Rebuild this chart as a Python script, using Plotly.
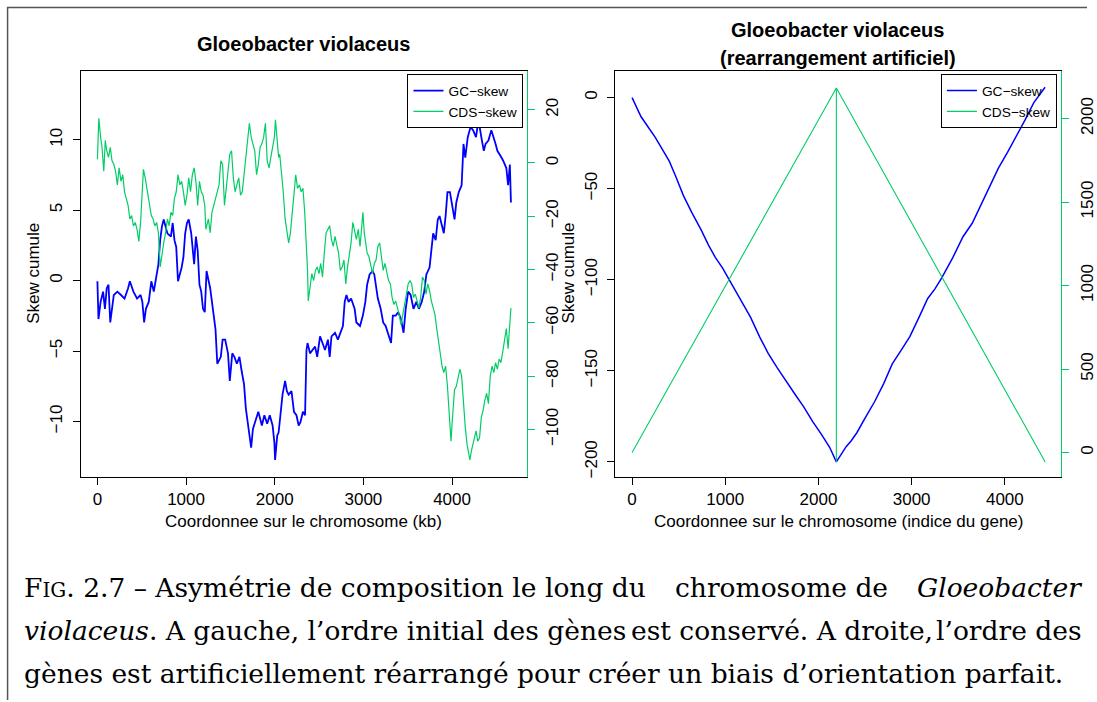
import plotly.graph_objects as go

W, H = 1097, 702


def px(x):
    return x / W


def py(y):
    return 1 - y / H


# ---------------- data: left panel (original gene order) ----------------
gc_kb = [0, 12, 36, 64, 85, 105, 125, 145, 185, 225, 266, 306, 346, 366, 406, 447, 487, 507, 527, 547,
         579, 608, 636, 668, 688, 708, 728, 748, 789, 829, 849, 869, 889, 909, 930, 950, 970, 990, 1010,
         1030, 1058, 1091, 1111, 1131, 1151, 1171, 1191, 1211, 1231, 1272, 1312, 1332, 1352, 1392, 1412,
         1441, 1473, 1493, 1521, 1545, 1573, 1602, 1626, 1654, 1674, 1702, 1714, 1734, 1754, 1795, 1815,
         1855, 1883, 1915, 1944, 1976, 1996, 2004, 2028, 2044, 2068, 2088, 2117, 2137, 2157, 2189, 2217,
         2245, 2270, 2290, 2318, 2342, 2358, 2370, 2398, 2430, 2455, 2479, 2511, 2539, 2567, 2600, 2620,
         2640, 2680, 2712, 2740, 2769, 2789, 2809, 2833, 2861, 2901, 2921, 2962, 2994, 3022, 3042, 3070,
         3103, 3123, 3163, 3195, 3223, 3251, 3284, 3312, 3332, 3364, 3392, 3424, 3453, 3477, 3505, 3533,
         3565, 3597, 3626, 3658, 3686, 3710, 3746, 3767, 3787, 3815, 3839, 3859, 3887, 3907, 3927, 3948,
         3976, 4000, 4028, 4048, 4076, 4108, 4129, 4149, 4177, 4209, 4237, 4270, 4298, 4330, 4358, 4378,
         4410, 4443, 4471, 4491, 4511, 4531, 4559, 4579, 4612, 4632, 4652, 4664]
gc_skew = [-0.05, -2.73, -1.51, -0.78, -2.0, -0.54, -0.29, -2.97, -1.02, -0.78, -1.02, -1.27, -0.54, -0.05,
           -0.78, -1.27, -1.02, -1.51, -2.97, -2.0, -1.51, -0.05, -0.78, 0.44, 1.17, 2.87, 3.85, 4.34, 3.36,
           3.12, 4.09, 2.87, 2.39, -0.05, 0.44, 0.93, 1.66, 3.36, 4.09, 4.34, 3.36, 1.17, 3.12, 2.14, -0.29,
           -0.78, -2.0, -2.24, 0.68, -0.54, -2.48, -3.46, -5.90, -5.41, -4.19, -4.19, -5.16, -7.11, -5.16,
           -5.41, -5.90, -5.41, -6.38, -7.36, -9.06, -10.52, -11.01, -11.86, -10.52, -9.79, -9.31, -10.28,
           -9.55, -10.16, -9.55, -10.28, -11.50, -12.72, -11.01, -10.77, -9.31, -8.09, -7.11, -7.84, -8.09,
           -7.84, -9.31, -9.55, -10.28, -10.04, -9.31, -9.55, -4.92, -4.43, -5.16, -4.92, -4.68, -5.41,
           -3.95, -4.43, -4.92, -4.19, -5.41, -3.95, -3.70, -4.19, -3.70, -3.22, -1.51, -1.02, -1.51, -1.27,
           -2.0, -2.97, -3.22, -2.48, -1.51, -0.29, 0.44, 0.68, 0.44, -1.27, -2.0, -2.97, -3.22, -3.95,
           -4.43, -2.48, -2.48, -2.24, -2.73, -3.70, -2.0, -0.78, -1.02, -2.0, -1.51, -2.0, -1.51, -0.78,
           0.44, 0.93, 2.14, 3.36, 2.87, 4.34, 4.58, 3.85, 3.36, 4.58, 6.28, 6.28, 5.31, 4.34, 5.55, 6.28,
           6.77, 9.70, 8.72, 10.18, 10.91, 10.67, 10.18, 11.40, 10.18, 9.21, 9.70, 9.94, 10.67, 10.18, 9.70,
           9.21, 8.96, 8.72, 8.48, 7.99, 6.77, 8.23, 5.55]

cds_kb = [0, 16, 36, 52, 72, 89, 105, 125, 145, 165, 185, 205, 225, 245, 266, 286, 306, 326, 346, 366,
          386, 406, 427, 447, 467, 487, 507, 519, 539, 567, 588, 608, 628, 648, 668, 688, 708, 728, 748,
          769, 789, 809, 829, 849, 869, 889, 909, 930, 950, 970, 990, 1010, 1030, 1050, 1071, 1091, 1111,
          1131, 1151, 1171, 1191, 1211, 1223, 1252, 1272, 1292, 1312, 1332, 1352, 1372, 1392, 1412, 1433,
          1453, 1473, 1493, 1513, 1533, 1553, 1573, 1594, 1614, 1634, 1654, 1674, 1694, 1714, 1734, 1754,
          1775, 1795, 1815, 1835, 1855, 1875, 1895, 1915, 1936, 1956, 1976, 1996, 2008, 2028, 2044, 2056,
          2076, 2096, 2117, 2137, 2157, 2177, 2197, 2217, 2237, 2257, 2278, 2298, 2318, 2338, 2358, 2370,
          2378, 2398, 2418, 2439, 2459, 2479, 2499, 2519, 2539, 2559, 2579, 2600, 2620, 2640, 2660, 2680,
          2700, 2720, 2740, 2761, 2781, 2801, 2821, 2841, 2861, 2881, 2901, 2921, 2942, 2962, 2982, 2994,
          3010, 3042, 3062, 3082, 3103, 3123, 3143, 3163, 3183, 3203, 3223, 3243, 3264, 3284, 3304, 3324,
          3344, 3364, 3384, 3404, 3424, 3444, 3465, 3485, 3505, 3525, 3545, 3565, 3585, 3606, 3626, 3646,
          3666, 3686, 3706, 3726, 3746, 3767, 3787, 3807, 3827, 3847, 3867, 3887, 3907, 3927, 3948, 3968,
          3988, 4000, 4016, 4028, 4048, 4068, 4088, 4108, 4129, 4149, 4169, 4189, 4201, 4217, 4237, 4249,
          4270, 4290, 4310, 4330, 4350, 4370, 4390, 4410, 4431, 4451, 4471, 4491, 4511, 4531, 4551, 4571,
          4592, 4612, 4632, 4652, 4664]
cds_skew = [1.4, 16.8, 9.7, 5.9, -3.1, 8.5, 4.6, 2.1, 5.9, 0.8, -0.5, -3.1, -8.2, -1.8, -6.9, -4.4, -10.8,
            -13.3, -15.9, -21.0, -19.7, -23.6, -22.3, -24.9, -29.4, -22.3, -8.2, -2.4, -5.6, -10.8, -15.9,
            -19.7, -21.0, -23.6, -22.3, -26.2, -39.0, -33.8, -30.0, -26.2, -21.0, -23.6, -18.5, -19.7, -13.3,
            -10.8, -4.4, -8.2, -6.9, -10.8, -15.9, -12.1, -5.6, -10.8, -4.4, -1.8, -6.9, -15.9, -6.9, -10.8,
            -12.1, -15.9, -24.9, -21.0, -26.2, -18.5, -15.9, -13.3, -10.8, -8.2, 0.8, -0.5, -15.9, -8.2, -3.1,
            3.3, 4.6, -5.6, -10.8, -8.2, -5.6, -12.1, -10.8, -4.4, 2.1, 5.9, 14.9, 9.7, 7.2, 4.6, -4.4, -0.5,
            5.9, 7.2, 9.7, 14.9, 0.8, -1.8, 2.1, 5.9, 9.7, 16.2, 9.7, 2.1, 3.3, -3.1, -10.8, -21.0, -26.2,
            -30.0, -26.2, -18.5, -13.3, -4.4, -9.5, -8.2, -10.8, -9.5, -18.5, -31.3, -40.3, -51.8, -46.7,
            -41.5, -44.1, -40.3, -39.0, -41.5, -37.7, -42.8, -33.8, -26.2, -24.9, -23.6, -28.7, -31.3, -27.5,
            -31.3, -33.8, -40.3, -39.0, -36.4, -45.4, -39.0, -33.8, -30.0, -22.3, -26.2, -28.7, -24.9, -31.3,
            -23.6, -18.5, -26.2, -33.8, -35.1, -39.0, -41.5, -37.7, -36.4, -31.3, -30.0, -35.1, -40.3, -37.7,
            -41.5, -44.1, -45.4, -50.5, -53.1, -51.8, -54.4, -56.9, -60.8, -56.9, -51.8, -47.9, -45.4, -44.1,
            -45.4, -50.5, -49.2, -51.8, -54.4, -50.5, -42.8, -44.1, -49.2, -45.4, -47.9, -51.8, -54.4, -56.9,
            -62.1, -67.2, -72.3, -76.2, -78.7, -76.2, -83.8, -92.8, -104.4, -97.9, -90.3, -85.1, -83.8, -80.0,
            -77.4, -80.0, -90.3, -99.2, -105.6, -109.5, -111.4, -108.2, -105.6, -103.1, -100.5, -104.4,
            -103.1, -95.4, -92.8, -89.0, -86.4, -90.3, -80.0, -76.2, -78.7, -74.9, -77.4, -73.6, -74.9, -71.0,
            -65.9, -62.1, -69.7, -58.2, -54.4]

# ---------------- data: right panel (artificial rearrangement) ----------------
re_gc_idx = [0, 40, 95, 150, 247, 320, 399, 470, 551, 640, 741, 820, 893, 970, 1044, 1150, 1272, 1370,
             1462, 1560, 1652, 1750, 1842, 1940, 2032, 2120, 2192, 2240, 2299, 2350, 2412, 2500, 2602,
             2700, 2792, 2890, 2982, 3080, 3171, 3250, 3323, 3440, 3551, 3650, 3741, 3840, 3931, 4030,
             4121, 4220, 4311, 4380, 4432]
re_gc_skew = [0, -4.5, -10.4, -14.5, -21.7, -28.0, -34.9, -43.5, -53.8, -63.0, -72.6, -81.0, -87.7, -93.5,
              -100, -110.0, -120.7, -131.5, -140.6, -148.5, -155.7, -163.0, -169.8, -178.0, -184.9, -192.0,
              -200, -196.0, -191.5, -188.5, -184, -176.0, -167, -157.0, -146.2, -138.5, -131.1, -120.5,
              -110.4, -105.0, -99, -88.0, -76.4, -69.0, -59.4, -49.0, -38.7, -30.0, -21.7, -12.0, -2.8,
              2.0, 5.7]
re_cds_idx = [0, 2192, 4433]
re_cds_skew = [0, 2183, -56]
re_split_idx = [2192, 2192]
re_split_skew = [2183, -56]

# ---------------- tick values and texts ----------------
x_ticks = [0, 1000, 2000, 3000, 4000]
left_gc_ticks = [-10, -5, 0, 5, 10]
left_cds_ticks = [-100, -80, -60, -40, -20, 0, 20]
right_gc_ticks = [-200, -150, -100, -50, 0]
right_cds_ticks = [0, 500, 1000, 1500, 2000]

series_names = ["GC\u2212skew", "CDS\u2212skew"]
title_left = "Gloeobacter violaceus"
title_right = ["Gloeobacter violaceus", "(rearrangement artificiel)"]
xlabel_left = "Coordonnee sur le chromosome (kb)"
xlabel_right = "Coordonnee sur le chromosome (indice du gene)"
ylabel = "Skew cumule"

BLUE = "#0000FF"
GREEN = "#00CD66"
SANS = "Liberation Sans, Arial, Helvetica, sans-serif"
SERIF = "DejaVu Serif, serif"

fig = go.Figure()

# left panel
fig.add_trace(go.Scatter(x=gc_kb, y=gc_skew, mode="lines", name=series_names[0],
                         line=dict(color=BLUE, width=1.8), xaxis="x", yaxis="y", legend="legend"))
fig.add_trace(go.Scatter(x=cds_kb, y=cds_skew, mode="lines", name=series_names[1],
                         line=dict(color=GREEN, width=1.2), xaxis="x", yaxis="y2", legend="legend"))
# right panel
fig.add_trace(go.Scatter(x=re_gc_idx, y=re_gc_skew, mode="lines", name=series_names[0],
                         line=dict(color=BLUE, width=1.5), xaxis="x2", yaxis="y3", legend="legend2"))
fig.add_trace(go.Scatter(x=re_cds_idx, y=re_cds_skew, mode="lines", name=series_names[1],
                         line=dict(color=GREEN, width=1.1), xaxis="x2", yaxis="y4", legend="legend2"))
fig.add_trace(go.Scatter(x=re_split_idx, y=re_split_skew, mode="lines", showlegend=False,
                         line=dict(color=GREEN, width=1.1), xaxis="x2", yaxis="y4"))

tickfont = dict(family=SANS, size=17, color="black")
base = dict(showgrid=False, zeroline=False, showline=True, linewidth=1, ticks="outside",
            ticklen=7, tickwidth=1, tickfont=tickfont, fixedrange=True, ticklabeloverflow="allow")

left_dom = [px(81.3), px(529)]
right_dom = [px(617.7), px(1065)]
y_dom = [py(478), py(71)]

fig.update_layout(
    width=W, height=H, autosize=False,
    margin=dict(l=0, r=0, t=0, b=0, pad=0),
    paper_bgcolor="white", plot_bgcolor="white",
    xaxis=dict(base, domain=left_dom, range=[-185, 4846], tickvals=x_ticks,
               linecolor="black", tickcolor="black", mirror=True, anchor="y"),
    yaxis=dict(base, domain=y_dom, range=[-13.91, 14.89], tickvals=left_gc_ticks,
               linecolor="black", tickcolor="black", tickangle=-90, anchor="x",
               ticklabelstandoff=4),
    yaxis2=dict(base, range=[-117.7, 34.6], tickvals=left_cds_ticks, overlaying="y",
                side="right", linecolor=GREEN, tickcolor=GREEN, tickangle=-90, anchor="x",
                ticklabelstandoff=3),
    xaxis2=dict(base, domain=right_dom, range=[-178.5, 4604], tickvals=x_ticks,
                linecolor="black", tickcolor="black", mirror=True, anchor="y3"),
    yaxis3=dict(base, domain=y_dom, range=[-208.1, 14.7], tickvals=right_gc_ticks,
                linecolor="black", tickcolor="black", tickangle=-90, anchor="x2",
                ticklabelstandoff=4),
    yaxis4=dict(base, range=[-144, 2286], tickvals=right_cds_ticks, overlaying="y3",
                side="right", linecolor=GREEN, tickcolor=GREEN, tickangle=-90, anchor="x2",
                ticklabelstandoff=3),
    legend=dict(x=px(525.4), xanchor="right", y=py(74.4), yanchor="top",
                bordercolor="black", borderwidth=1, bgcolor="white",
                font=dict(family=SANS, size=13.7, color="black"), tracegroupgap=0),
    legend2=dict(x=px(1060.8), xanchor="right", y=py(74.4), yanchor="top",
                 bordercolor="black", borderwidth=1, bgcolor="rgba(255,255,255,0)",
                 font=dict(family=SANS, size=13.7, color="black"), tracegroupgap=0),
    showlegend=True,
)

ann = []


def add_text(text, x, y, size, family=SANS, anchor="center", angle=0, bold=False):
    t = f"<b>{text}</b>" if bold else text
    ann.append(dict(text=t, x=px(x), y=py(y), xref="paper", yref="paper", showarrow=False,
                    xanchor=anchor, yanchor="middle", textangle=angle,
                    font=dict(family=family, size=size, color="black")))


add_text(title_left, 305, 44.5, 20, bold=True)
add_text(title_right[0], 841, 30.4, 20, bold=True)
add_text(title_right[1], 841, 58, 20, bold=True)
add_text(xlabel_left, 305, 522.5, 17)
add_text(xlabel_right, 841.5, 522.5, 17)
add_text(ylabel, 33.7, 274, 17, angle=-90)
add_text(ylabel, 570.4, 274, 17, angle=-90)

# caption (pseudo-justified in pieces)
cs = 26.5
sc = "<span style='font-size:20px'>IG</span>"
add_text(f"F{sc}. 2.7 \u2013 Asym\u00e9trie de composition le long du", 22, 589, cs, SERIF, "left")
add_text("chromosome de", 675, 589, cs, SERIF, "left")
add_text("<i>Gloeobacter</i>", 1088, 589, cs, SERIF, "right")
add_text("<i>violaceus</i>. A gauche, l\u2019ordre initial des g\u00e8nes", 22, 632, cs, SERIF, "left")
add_text("est conserv\u00e9. A droite,", 631, 632, cs, SERIF, "left")
add_text("l\u2019ordre des", 1088, 632, cs, SERIF, "right")
add_text("g\u00e8nes est artificiellement r\u00e9arrang\u00e9 pour cr\u00e9er un biais d\u2019orientation parfait.",
         22, 675, cs, SERIF, "left")

fig.update_layout(annotations=ann)

# page frame (top and left rules)
fig.update_layout(shapes=[
    dict(type="line", xref="paper", yref="paper", x0=px(7), x1=px(1091), y0=py(7.6), y1=py(7.6),
         line=dict(color="#555555", width=1.5)),
    dict(type="line", xref="paper", yref="paper", x0=px(7.6), x1=px(7.6), y0=py(7), y1=0,
         line=dict(color="#555555", width=1.5)),
])

# remove the default 8px page margin so the 1097x702 figure fills the window exactly
fig.write_html(
    "out.html",
    config={"displayModeBar": False},
    post_script="document.documentElement.style.overflow='hidden';"
                "document.body.style.margin='0';document.body.style.overflow='hidden';",
)
